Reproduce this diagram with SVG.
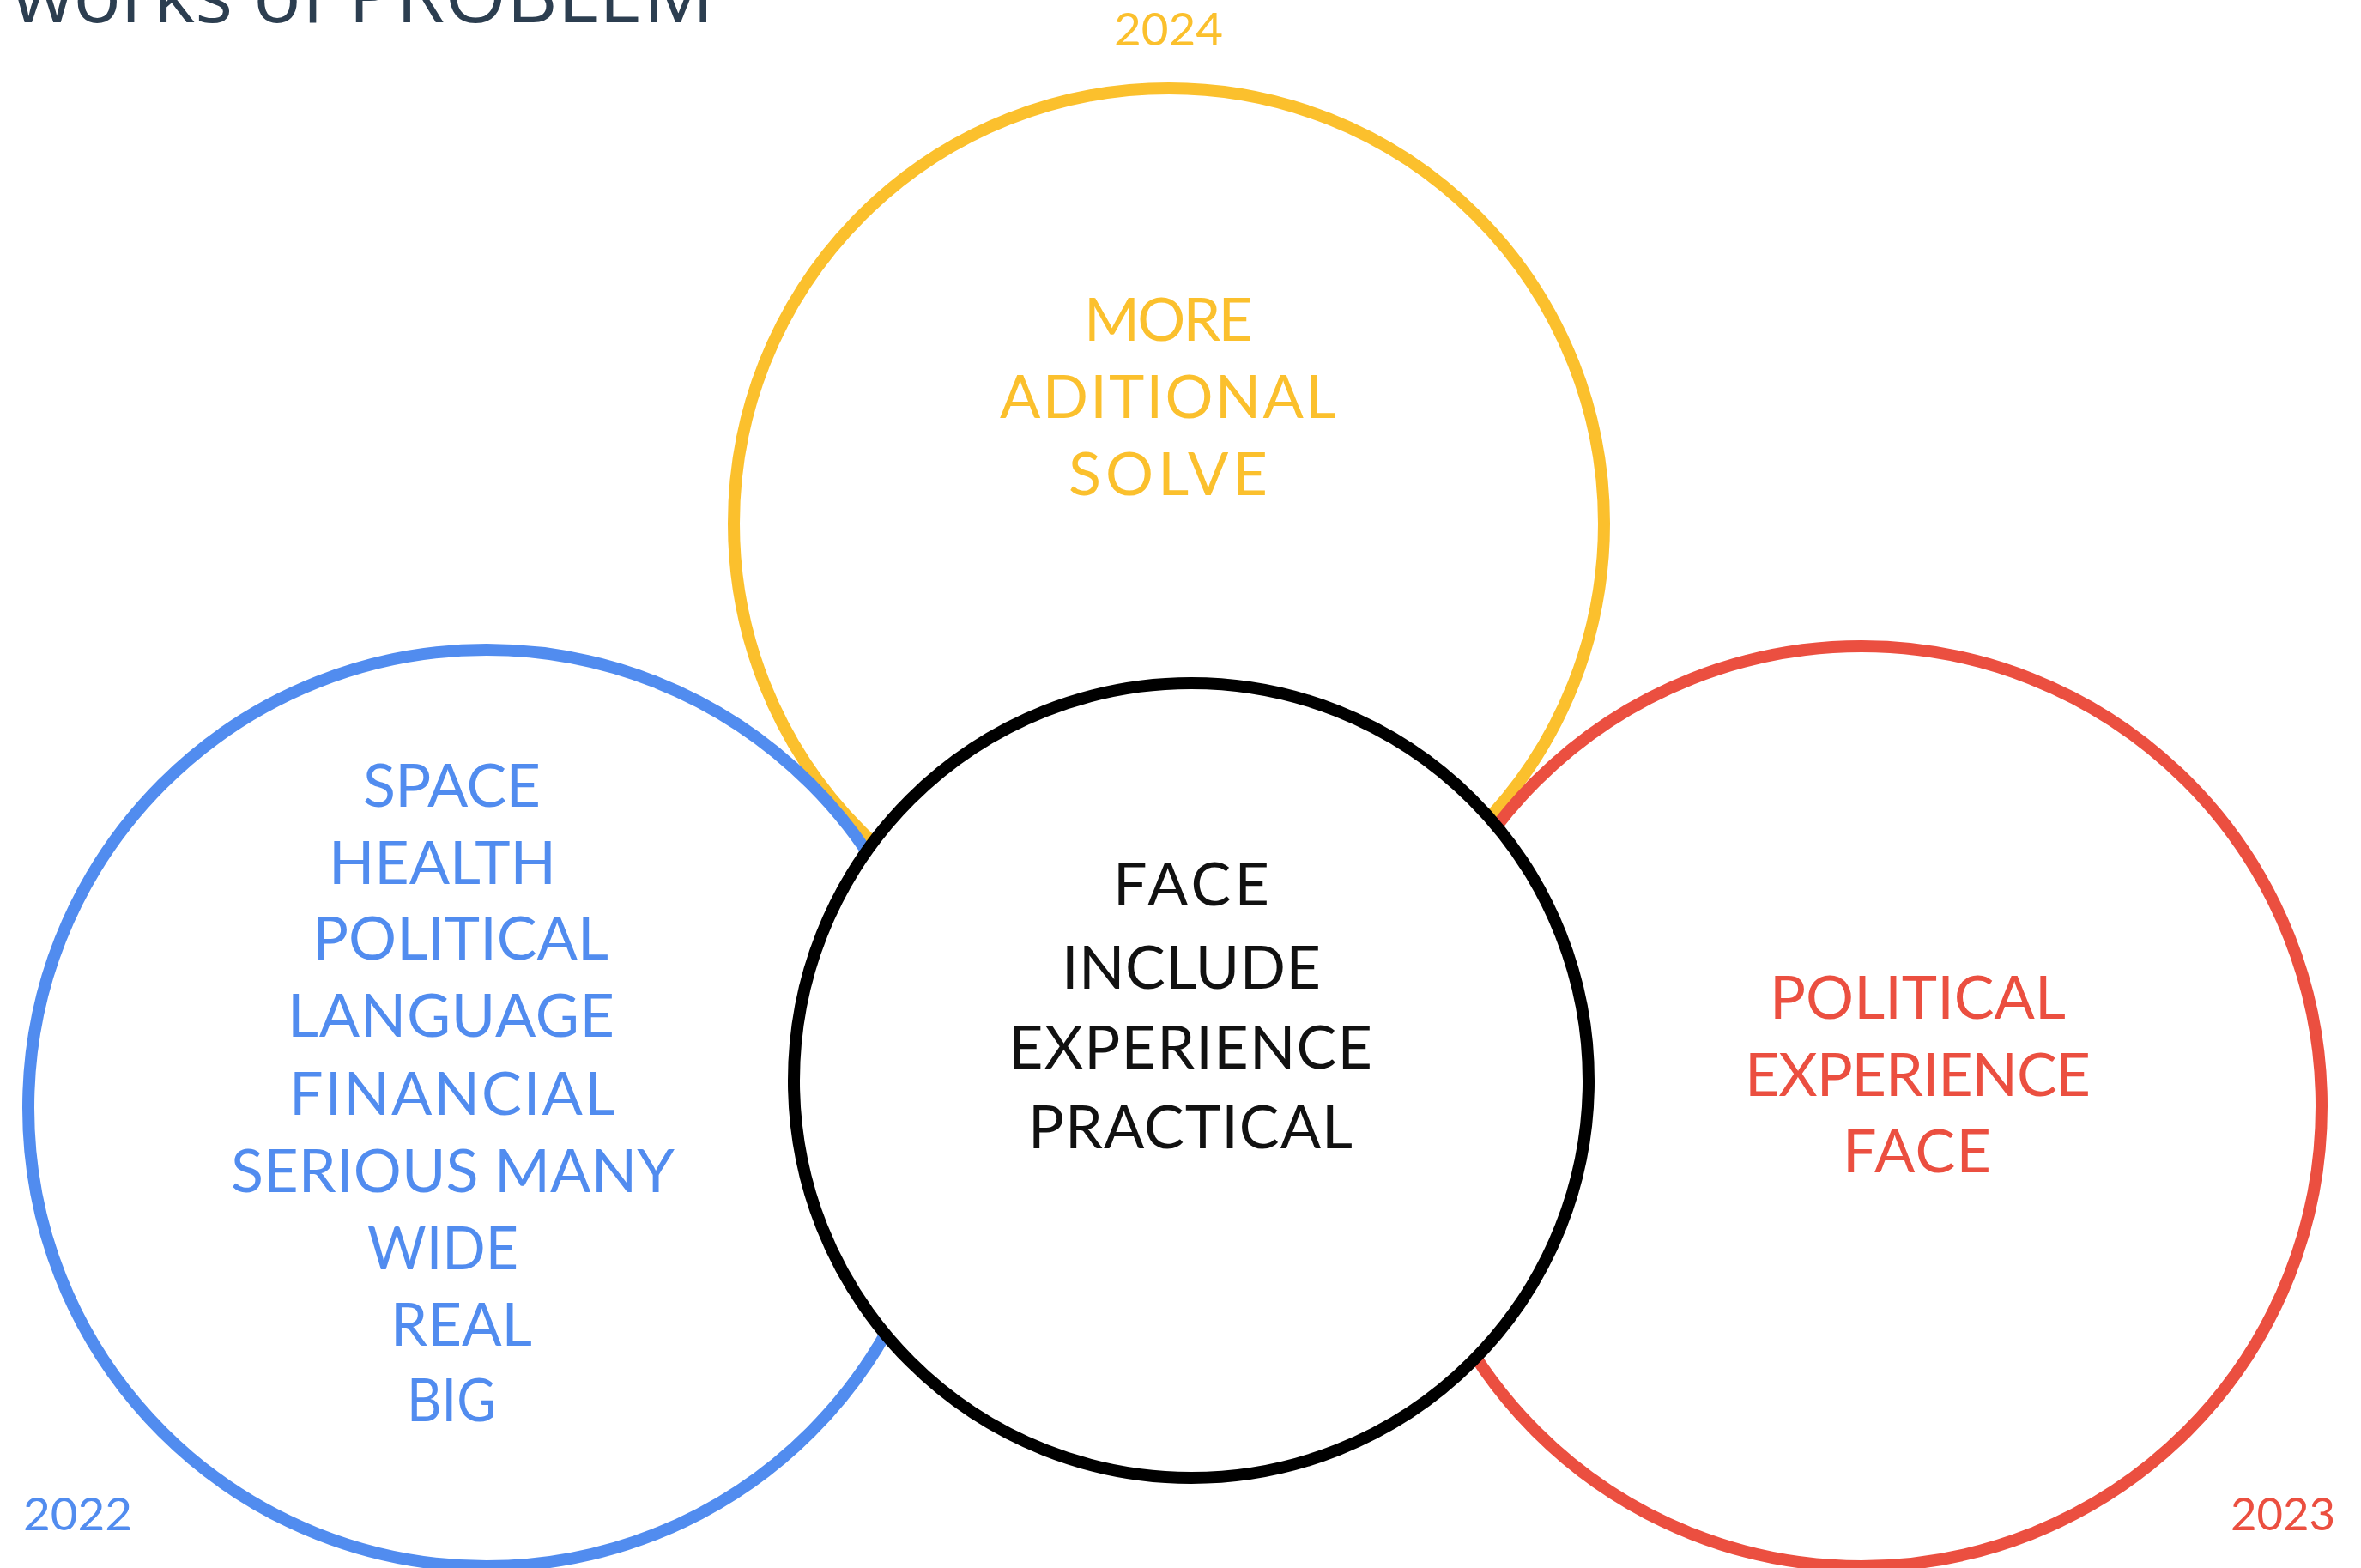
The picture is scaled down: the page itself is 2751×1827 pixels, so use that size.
<svg xmlns="http://www.w3.org/2000/svg" width="2751" height="1827" viewBox="0 0 2751 1827">
<style>
.ring{fill:none;stroke-width:14}
.lbl{font-family:Lato,"Open Sans","DejaVu Sans",sans-serif;font-size:70px;font-weight:400}
.yr{font-family:Lato,"Open Sans","DejaVu Sans",sans-serif;font-size:52px;font-weight:400}
.y{fill:#FBC02D}.b{fill:#518CEF}.r{fill:#EB4F40}.k{fill:#111111}
</style>
<rect width="2751" height="1827" fill="#ffffff"/>
<text x="14" y="26" font-family="'Open Sans','Liberation Sans',sans-serif" font-size="90" fill="#2C3E50" textLength="818" lengthAdjust="spacingAndGlyphs">works of PROBLEM</text>
<g id="connectors"></g>
<g id="node-2024">
<circle class="ring" cx="1362" cy="610" r="507" stroke="#FBC02D"/>
<text class="yr y" x="1298" y="53" textLength="127" lengthAdjust="spacingAndGlyphs">2024</text>
<text class="lbl y" x="1263" y="397" textLength="197" lengthAdjust="spacing">MORE</text>
<text class="lbl y" x="1165" y="487" textLength="392" lengthAdjust="spacing">ADITIONAL</text>
<text class="lbl y" x="1245" y="577" textLength="232" lengthAdjust="spacing">SOLVE</text>
</g>
<g id="node-2022">
<circle class="ring" cx="567" cy="1291" r="534" stroke="#518CEF"/>
<text class="yr b" x="27" y="1783" textLength="127" lengthAdjust="spacingAndGlyphs">2022</text>
<text class="lbl b" x="423" y="940" textLength="207" lengthAdjust="spacing">SPACE</text>
<text class="lbl b" x="383" y="1030" textLength="265" lengthAdjust="spacing">HEALTH</text>
<text class="lbl b" x="364" y="1118" textLength="345" lengthAdjust="spacing">POLITICAL</text>
<text class="lbl b" x="335" y="1208" textLength="381" lengthAdjust="spacing">LANGUAGE</text>
<text class="lbl b" x="337" y="1299" textLength="380" lengthAdjust="spacing">FINANCIAL</text>
<text class="lbl b" x="269" y="1389" textLength="517" lengthAdjust="spacing">SERIOUS MANY</text>
<text class="lbl b" x="428" y="1479" textLength="176" lengthAdjust="spacingAndGlyphs">WIDE</text>
<text class="lbl b" x="455" y="1568" textLength="165" lengthAdjust="spacingAndGlyphs">REAL</text>
<text class="lbl b" x="474" y="1656" textLength="104" lengthAdjust="spacingAndGlyphs">BIG</text>
</g>
<g id="node-2023">
<circle class="ring" cx="2169" cy="1289" r="536" stroke="#EB4F40"/>
<text class="yr r" x="2599" y="1783" textLength="122" lengthAdjust="spacingAndGlyphs">2023</text>
<text class="lbl r" x="2062" y="1187" textLength="345" lengthAdjust="spacing">POLITICAL</text>
<text class="lbl r" x="2033" y="1277" textLength="403" lengthAdjust="spacing">EXPERIENCE</text>
<text class="lbl r" x="2147" y="1366" textLength="173" lengthAdjust="spacing">FACE</text>
</g>
<g id="node-common">
<circle cx="1388" cy="1259" r="463" fill="#ffffff" stroke="#000000" stroke-width="14"/>
<text class="lbl k" x="1297" y="1055" textLength="182" lengthAdjust="spacing">FACE</text>
<text class="lbl k" x="1237" y="1152" textLength="302" lengthAdjust="spacing">INCLUDE</text>
<text class="lbl k" x="1175" y="1245" textLength="424" lengthAdjust="spacing">EXPERIENCE</text>
<text class="lbl k" x="1198" y="1338" textLength="378" lengthAdjust="spacing">PRACTICAL</text>
</g>
</svg>
